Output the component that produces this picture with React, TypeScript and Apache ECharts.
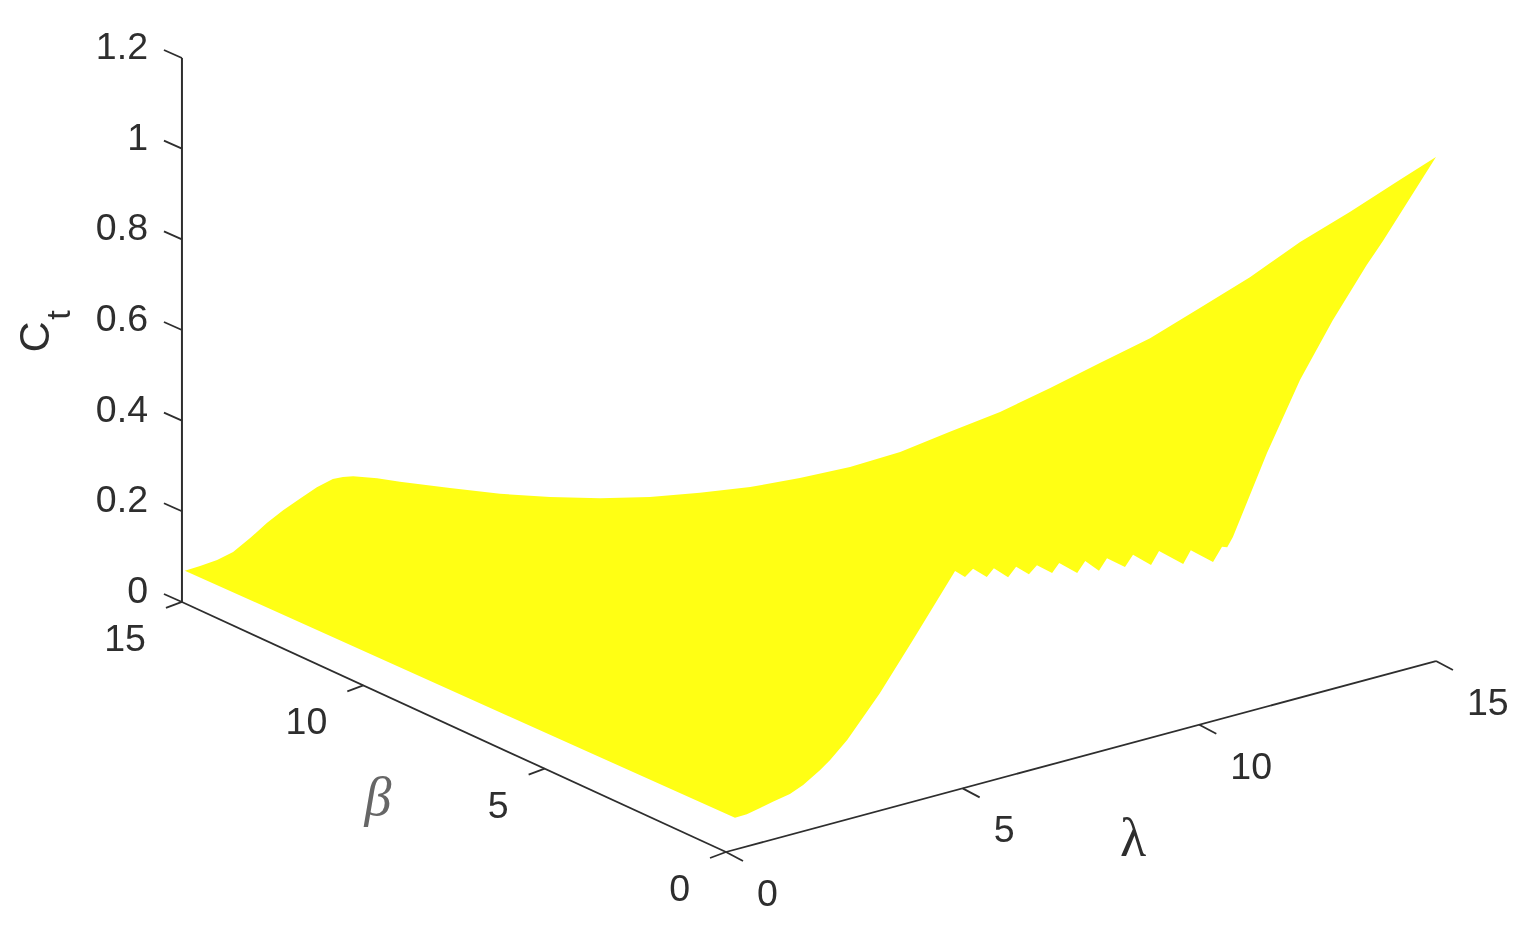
import React, { useEffect, useRef } from "react";
import * as echarts from "echarts";

// Tick values
const ctTicks = [0, 0.2, 0.4, 0.6, 0.8, 1, 1.2];
const lambdaTicks = [0, 5, 10, 15];
const betaTicks = [0, 5, 10, 15];

// Upper silhouette of the surface along lambda = 0
const upperBeta = [14.92, 14.5, 14.03, 13.59, 13.12, 12.66, 12.21, 11.75, 11.28, 10.84, 10.56, 10.28, 9.95, 9.62, 8.99, 7.61, 6.23, 4.85, 3.47, 2.1, 0.72];
const upperBetaCt = [0.072, 0.0975, 0.128, 0.162, 0.21, 0.26, 0.305, 0.347, 0.39, 0.424, 0.439, 0.451, 0.461, 0.471, 0.486, 0.523, 0.561, 0.605, 0.653, 0.706, 0.766];

// Upper silhouette of the surface along beta = 0
const upperLambda = [0.51, 1.56, 2.62, 3.68, 4.73, 5.79, 6.85, 7.9, 8.96, 10.01, 11.07, 12.13, 13.18, 14.24, 15];
const upperLambdaCt = [0.791, 0.781, 0.776, 0.779, 0.794, 0.808, 0.831, 0.857, 0.882, 0.919, 0.957, 1.005, 1.042, 1.083, 1.112];

// Lower boundary with the saw-tooth cut, from the far corner back to the origin, along beta = 0
const lowerLambda = [13.88, 13.54, 12.82, 12.13, 11.43, 10.71, 10.59, 10.48, 10.29, 9.82, 9.66, 9.15, 8.98, 8.6, 8.43, 8.05, 7.88, 7.59, 7.42, 7.04, 6.89, 6.57, 6.4, 6.13, 5.96, 5.66, 5.51, 5.22, 5.05, 4.84, 3.95, 3.25, 2.56, 2.2, 1.99, 1.63, 1.35, 0.99, 0.72, 0.44, 0.19];
const lowerCt = [0.958, 0.915, 0.813, 0.701, 0.559, 0.394, 0.375, 0.379, 0.351, 0.39, 0.364, 0.407, 0.381, 0.414, 0.392, 0.422, 0.399, 0.429, 0.407, 0.44, 0.422, 0.448, 0.433, 0.457, 0.439, 0.467, 0.452, 0.478, 0.465, 0.484, 0.357, 0.259, 0.175, 0.141, 0.125, 0.102, 0.09, 0.083, 0.077, 0.071, 0.07];

const WIDTH = 1518;
const HEIGHT = 935;
const INK = "#2e2e2e";
const SANS = "'Liberation Sans', Arial, sans-serif";

// Oblique view of the (lambda, beta, Ct) box, in scene units of the hidden axes
const project = (lambda: number, beta: number, ct: number): [number, number] => [
  726 + 47.33 * lambda - 36.27 * beta,
  852 - 12.73 * lambda - 16.67 * beta - 453.3 * ct,
];

const outline: [number, number, number][] = [
  ...upperBeta.map((b, i) => [0, b, upperBetaCt[i]] as [number, number, number]),
  ...upperLambda.map((l, i) => [l, 0, upperLambdaCt[i]] as [number, number, number]),
  ...lowerLambda.map((l, i) => [l, 0, lowerCt[i]] as [number, number, number]),
];

function renderSurface(_p: any, api: any) {
  return {
    type: "polygon",
    shape: { points: outline.map(([l, b, c]) => api.coord(project(l, b, c))) },
    style: { fill: "#ffff14", stroke: "none" },
    silent: true,
  };
}

function renderFrame(_p: any, api: any) {
  const children: any[] = [];
  const at = (l: number, b: number, c: number) => api.coord(project(l, b, c));
  const line = (p: number[], q: number[], width: number) => ({
    type: "line",
    shape: { x1: p[0], y1: p[1], x2: q[0], y2: q[1] },
    style: { stroke: INK, lineWidth: width, fill: "none" },
  });
  const label = (text: string, x: number, y: number, align: string) => ({
    type: "text",
    x,
    y,
    style: { text, fill: INK, fontSize: 37.5, fontFamily: SANS, align, verticalAlign: "middle" },
  });

  children.push(line(at(0, 15, 0), at(0, 15, 1.2), 2));
  children.push(line(at(0, 0, 0), at(0, 15, 0), 1.8));
  children.push(line(at(0, 0, 0), at(15, 0, 0), 1.8));

  ctTicks.forEach((t) => {
    const p = at(0, 15, t);
    children.push(line(p, [p[0] - 18, p[1] - 8], 1.8));
    children.push(label(String(t), 148, p[1] - 12, "right"));
  });
  betaTicks.forEach((t) => {
    const p = at(0, t, 0);
    children.push(line(p, [p[0] - 16, p[1] + 6], 1.8));
    children.push(label(String(t), p[0] - 36, p[1] + 36, "right"));
  });
  lambdaTicks.forEach((t) => {
    const p = at(t, 0, 0);
    children.push(line(p, [p[0] + 17, p[1] + 9], 1.8));
    children.push(label(String(t), p[0] + 31, p[1] + 41, "left"));
  });

  children.push({
    type: "text", x: 34, y: 337, rotation: Math.PI / 2,
    style: { text: "C", fill: INK, fontSize: 43, fontFamily: SANS, align: "center", verticalAlign: "middle" },
  });
  children.push({
    type: "text", x: 58, y: 315, rotation: Math.PI / 2,
    style: { text: "t", fill: INK, fontSize: 34, fontFamily: SANS, align: "center", verticalAlign: "middle" },
  });
  children.push({
    type: "text", x: 378, y: 797,
    style: { text: "β", fill: "#666666", fontSize: 54, fontStyle: "italic", fontFamily: "'Liberation Serif', serif", align: "center", verticalAlign: "middle" },
  });
  children.push({
    type: "text", x: 1133, y: 838,
    style: { text: "λ", fill: INK, fontSize: 54, fontFamily: "'Liberation Serif', serif", align: "center", verticalAlign: "middle" },
  });
  return { type: "group", children, silent: true };
}

export default function App() {
  const ref = useRef<HTMLDivElement>(null);
  useEffect(() => {
    document.body.style.margin = "0";
    const chart = echarts.init(ref.current!, null, { renderer: "svg" });
    chart.setOption({
      animation: false,
      backgroundColor: "#ffffff",
      grid: { left: 0, top: 0, width: WIDTH, height: HEIGHT },
      xAxis: { type: "value", min: 0, max: WIDTH, show: false },
      yAxis: { type: "value", min: 0, max: HEIGHT, inverse: true, show: false },
      tooltip: { show: false },
      series: [
        { type: "custom", name: "Ct surface", coordinateSystem: "cartesian2d", data: [[0, 0]], renderItem: renderSurface, clip: false },
        { type: "custom", name: "Axes", coordinateSystem: "cartesian2d", data: [[0, 0]], renderItem: renderFrame, clip: false },
      ],
    });
    return () => chart.dispose();
  }, []);
  return <div ref={ref} style={{ width: WIDTH, height: HEIGHT, filter: "blur(0.5px)" }} />;
}
